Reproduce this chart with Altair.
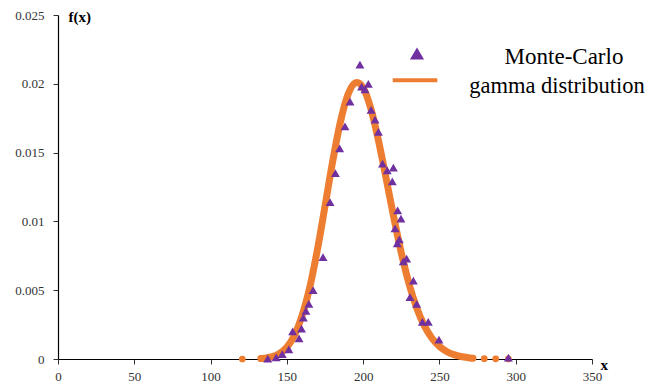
import altair as alt
import pandas as pd

# ---- data ----
curve_x = [133, 135, 140, 145, 150, 155, 160, 165, 170, 175, 180, 185, 190, 195, 196,
           200, 205, 210, 215, 220, 225, 230, 235, 240, 245, 250, 255, 260, 265, 270, 272]
curve_f = [0.00003, 0.000054, 0.000154, 0.000387, 0.00086, 0.00173, 0.00316, 0.0052,
           0.00793, 0.0111, 0.01434, 0.01718, 0.0192, 0.02008, 0.0201, 0.01971, 0.01822,
           0.0159, 0.01316, 0.01034, 0.00772, 0.0055, 0.00374, 0.00244, 0.00153, 0.00092,
           0.00053, 0.0003, 0.00016, 0.00008, 0.00006]

dot_x = [120.8, 133.1, 279.4, 286.9, 295.2]
dot_f = [0.000001, 0.00003, 0.00002, 0.00001, 0.000002]

mc_x = [137.5, 143.0, 147.0, 151.3, 153.8, 158.0, 159.6, 160.8, 162.5, 164.4, 167.2,
        173.7, 178.3, 181.8, 184.6, 188.1, 191.4, 197.9, 199.0, 201.2, 203.4, 205.2,
        207.8, 210.0, 212.7, 215.8, 219.1, 219.8, 220.9, 222.4, 222.6, 223.7, 224.8,
        226.3, 228.5, 230.7, 232.9, 235.1, 238.8, 242.7, 249.7, 295.2]
mc_f = [0.00003, 0.00012, 0.00036, 0.0007, 0.0020, 0.0015, 0.0022, 0.0030, 0.0035, 0.0040,
        0.0050, 0.0074, 0.0114, 0.0135, 0.0153, 0.0169, 0.0187, 0.0214, 0.0198, 0.0196,
        0.0200, 0.0181, 0.0174, 0.0165, 0.0142, 0.0137, 0.0129, 0.0139, 0.0095, 0.0084,
        0.0108, 0.0087, 0.0102, 0.0071, 0.0073, 0.0045, 0.0057, 0.0040, 0.0027, 0.0027,
        0.0014, 0.0001]

x_ticks = [0, 50, 100, 150, 200, 250, 300, 350]
y_ticks = [0, 0.005, 0.01, 0.015, 0.02, 0.025]

legend_labels = ["Monte-Carlo", "gamma distribution"]

ORANGE = "#ED7D31"
PURPLE = "#7030A0"
FONT = "Liberation Serif"

curve_df = pd.DataFrame({"x": curve_x, "f": curve_f})
dot_df = pd.DataFrame({"x": dot_x, "f": dot_f})
mc_df = pd.DataFrame({"x": mc_x, "f": mc_f})

xs = alt.Scale(domain=[0, 350], nice=False, zero=False)
ys = alt.Scale(domain=[0, 0.025], nice=False)

xaxis = alt.Axis(values=x_ticks, format="d", title="x", titleAngle=0, titleX=542,
                 titleY=10.5, titleAlign="left", titleBaseline="alphabetic",
                 titleFont=FONT, titleFontSize=15, titleFontWeight="bold",
                 titleColor="black", labelFont=FONT, labelFontSize=13,
                 labelColor="#333333", labelPadding=6, labelFlush=False,
                 labelOverlap=False, tickSize=5, tickColor="#333333",
                 domainColor="black", domainWidth=1.2, grid=False)
yaxis = alt.Axis(values=y_ticks, format="~g", title="f(x)", titleAngle=0, titleX=10,
                 titleY=6, titleAlign="left", titleBaseline="alphabetic",
                 titleFont=FONT, titleFontSize=15, titleFontWeight="bold",
                 titleColor="black", labelFont=FONT, labelFontSize=13,
                 labelColor="#333333", labelPadding=9, labelFlush=False,
                 labelOverlap=False, tickSize=5, tickColor="#333333",
                 domainColor="black", domainWidth=1.2, grid=False)

curve = alt.Chart(curve_df).mark_line(
    color=ORANGE, strokeWidth=7, strokeCap="round", strokeJoin="round",
    interpolate="monotone"
).encode(
    x=alt.X("x:Q", scale=xs, axis=xaxis),
    y=alt.Y("f:Q", scale=ys, axis=yaxis),
)

dots = alt.Chart(dot_df).mark_circle(color=ORANGE, size=45, opacity=1).encode(
    x=alt.X("x:Q", scale=xs),
    y=alt.Y("f:Q", scale=ys),
)

tri = alt.Chart(mc_df).mark_point(
    shape="triangle-up", filled=True, size=80, color=PURPLE, opacity=1
).encode(
    x=alt.X("x:Q", scale=xs),
    y=alt.Y("f:Q", scale=ys),
)

one = alt.Data(values=[{"k": 0}])
leg_tri = alt.Chart(one).mark_point(
    shape="triangle-up", filled=True, size=200, color=PURPLE, opacity=1
).encode(x=alt.value(359), y=alt.value(38.5))
leg_line = alt.Chart(one).mark_rule(color=ORANGE, strokeWidth=4).encode(
    x=alt.value(334.7), x2=alt.value(379.3), y=alt.value(65.3)
)
leg_t1 = alt.Chart(one).mark_text(
    text=legend_labels[0], font=FONT, fontSize=23, color="black", align="center",
    baseline="alphabetic"
).encode(x=alt.value(506), y=alt.value(49.3))
leg_t2 = alt.Chart(one).mark_text(
    text=legend_labels[1], font=FONT, fontSize=22.5, color="black", align="center",
    baseline="alphabetic"
).encode(x=alt.value(499), y=alt.value(78.3))

chart = alt.layer(curve, dots, tri, leg_tri, leg_line, leg_t1, leg_t2).properties(
    width=534, height=344, autosize="none",
    padding={"left": 50, "top": 7, "right": 56, "bottom": 26},
).configure_view(stroke=None).configure_axis(
    labelFont=FONT, titleFont=FONT
).configure_text(font=FONT)

chart.save("out.html", embed_options={"renderer": "svg", "actions": False})
